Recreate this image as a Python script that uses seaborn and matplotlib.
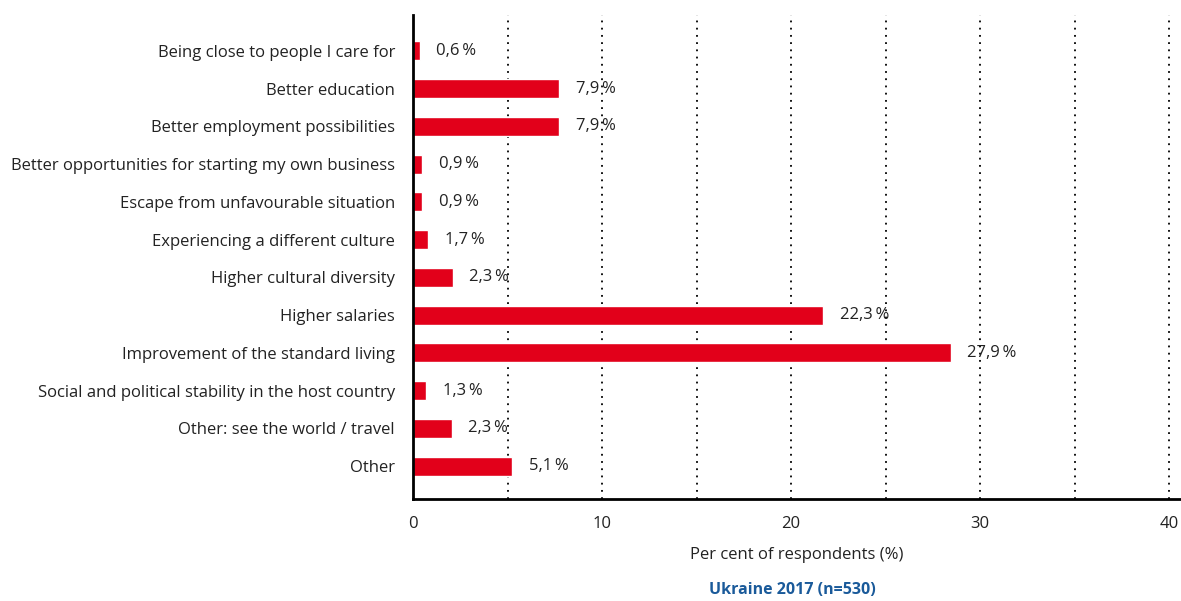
import pandas as pd
import matplotlib.pyplot as plt
import seaborn as sns

# %% data
reasons = [
    'Being close to people I care for',
    'Better education',
    'Better employment possibilities',
    'Better opportunities for starting my own business',
    'Escape from unfavourable situation',
    'Experiencing a different culture',
    'Higher cultural diversity',
    'Higher salaries',
    'Improvement of the standard living',
    'Social and political stability in the host country',
    'Other: see the world / travel',
    'Other',
]
# bar lengths as drawn in the picture
bar_values = [0.35, 7.75, 7.75, 0.5, 0.5, 0.8, 2.1, 21.7, 28.45, 0.7, 2.05, 5.25]
# printed value labels
value_labels = ['0,6%', '7,9%', '7,9%', '0,9%', '0,9%', '1,7%',
                '2,3%', '22,3%', '27,9%', '1,3%', '2,3%', '5,1%']

df = pd.DataFrame({'reason': reasons, 'value': bar_values, 'label': value_labels})

# %% plot
sns.set_style('white')
plt.rcParams['font.family'] = ['Open Sans', 'DejaVu Sans']
fig = plt.figure(figsize=(11.81, 6.01), dpi=100)
ax = fig.add_axes([0.3497, 0.1697, 1 - 0.3497, 0.975 - 0.1697])

sns.barplot(data=df, x='value', y='reason', orient='h', color='#e2001a',
            saturation=1, width=0.5, ax=ax)

for i, row in df.iterrows():
    ax.annotate(row['label'].replace('%', '\u2009%'), (row['value'], i),
                xytext=(12, 0), textcoords='offset points', va='center',
                ha='left', fontsize=12, color='#222222')

for x in range(5, 45, 5):
    ax.axvline(x, color='black', ls=(0, (1, 3)), lw=1.3, zorder=0)

ax.set_xlim(0, 40.63)
ax.set_ylim(11.87, -0.95)
ax.set_xticks([0, 10, 20, 30, 40])
ax.tick_params(axis='both', length=0, labelsize=12, colors='#222222')
ax.tick_params(axis='x', pad=12)
ax.tick_params(axis='y', pad=13)
ax.set_ylabel('')
ax.set_xlabel('Per cent of respondents (%)', fontsize=12, color='#222222', labelpad=11)
for s in ['top', 'right']:
    ax.spines[s].set_visible(False)
for s in ['left', 'bottom']:
    ax.spines[s].set_color('black')
    ax.spines[s].set_linewidth(2)
fig.text(0.671, 0.005, 'Ukraine 2017 (n=530)', ha='center', va='bottom',
         fontsize=11.5, fontweight='bold', color='#1a5a9a')

plt.savefig('out.png', dpi=100)
plt.close()
